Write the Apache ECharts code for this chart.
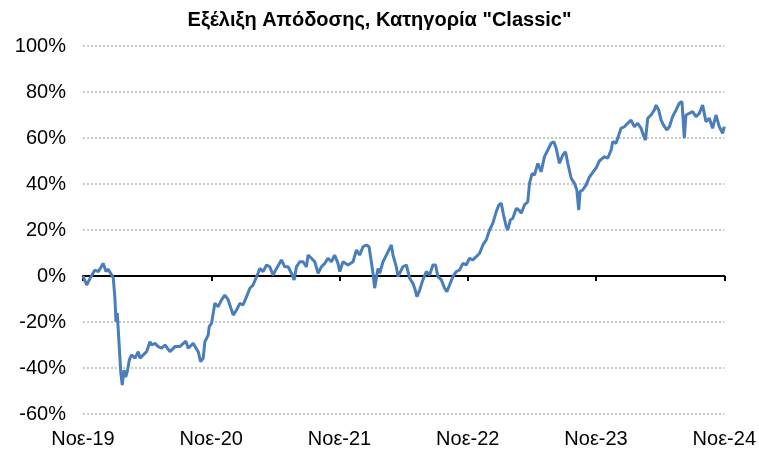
<!DOCTYPE html>
<html>
<head>
<meta charset="utf-8">
<script src="https://cdn.jsdelivr.net/npm/echarts@6/dist/echarts.min.js"></script>
<style>
html,body{margin:0;padding:0;background:#fff;}
#chart{width:759px;height:450px;}
</style>
</head>
<body>
<div id="chart"></div>
<script>
const title = 'Εξέλιξη Απόδοσης, Κατηγορία "Classic"';
const startYear = 19;
const monthLabel = 'Νοε';
// time in years since Nov-2019
const years = [0,0.008,0.029,0.049,0.070,0.093,0.119,0.140,0.158,0.179,0.195,0.210,0.224,0.236,0.249,0.257,0.267,0.283,0.294,0.306,0.319,0.333,0.345,0.361,0.379,0.405,0.431,0.444,0.470,0.496,0.522,0.535,0.561,0.586,0.613,0.639,0.678,0.717,0.755,0.802,0.820,0.859,0.898,0.917,0.937,0.950,0.976,0.984,1.002,1.028,1.054,1.080,1.106,1.132,1.171,1.197,1.223,1.248,1.275,1.301,1.326,1.365,1.378,1.404,1.431,1.456,1.482,1.509,1.547,1.573,1.599,1.625,1.646,1.664,1.690,1.716,1.742,1.755,1.781,1.807,1.833,1.859,1.885,1.910,1.937,1.962,1.988,2.002,2.027,2.066,2.105,2.132,2.157,2.183,2.209,2.230,2.248,2.261,2.274,2.287,2.300,2.313,2.339,2.365,2.391,2.404,2.417,2.443,2.456,2.469,2.494,2.521,2.547,2.572,2.586,2.604,2.625,2.650,2.677,2.702,2.728,2.749,2.767,2.794,2.819,2.837,2.858,2.884,2.910,2.936,2.962,2.988,3.014,3.040,3.066,3.092,3.118,3.144,3.170,3.195,3.222,3.242,3.261,3.279,3.300,3.312,3.331,3.351,3.378,3.398,3.417,3.442,3.468,3.481,3.502,3.520,3.546,3.572,3.598,3.624,3.650,3.671,3.689,3.715,3.741,3.762,3.780,3.806,3.832,3.850,3.865,3.876,3.896,3.923,3.948,3.974,4.001,4.026,4.065,4.091,4.118,4.130,4.156,4.195,4.221,4.247,4.273,4.299,4.325,4.351,4.364,4.385,4.403,4.429,4.455,4.468,4.488,4.507,4.525,4.551,4.572,4.597,4.624,4.649,4.670,4.688,4.701,4.727,4.753,4.779,4.805,4.831,4.857,4.883,4.909,4.935,4.961,4.987,5.000];
// cumulative return, %
const returns = [0,-0.3,-3.9,-1.7,0.5,2.6,1.9,3.8,5.5,1.9,3.0,2.2,0.4,-0.9,-9.6,-19.9,-16,-31,-41.6,-47.4,-40.9,-44,-41.6,-36.5,-34.3,-35.7,-32.9,-35.7,-34.3,-32.9,-28.6,-30,-29.3,-30.7,-31.4,-30,-32.9,-30.7,-30.7,-28.3,-31.4,-29.3,-32.9,-37.2,-35.8,-28.6,-25.7,-22,-20.6,-11.9,-13.3,-10.4,-8.3,-10.4,-17,-14.8,-11.9,-12.6,-9,-5.3,-3.9,1.2,3.3,1.9,4.8,4,0.4,3.3,7,4,4,1.2,-1.7,4,6.2,6.2,4,9.1,7.7,6.2,1.2,4,5.5,7.7,6.2,9.1,5.5,1.9,6.2,4.8,6.2,11.3,9.1,12.7,13.5,12.7,6.2,1.2,-5.3,-1,3.3,1.2,6.2,9.1,12,13.5,9.1,4,-0.3,-1,4,4.8,-1,-3.2,-5.3,-9,-6.1,-1.7,1.9,0.4,4.8,4.8,-0.3,-1.7,-5.3,-6.8,-3.9,-0.3,1.9,2.6,5.5,4.8,7.7,7,8.4,9.9,13.5,15.7,20,22.9,28,30.9,31.6,26.5,21.4,20,24.3,25.1,29.4,28.7,27.3,30.9,32.3,40.3,44.6,43.9,49,45.3,51.9,54.8,57.7,58.4,55.5,49,52.6,54,49,42.5,40.3,37.4,28.7,36.7,37.4,39.6,43,45,47,50,51.9,51.2,54.8,58.4,57.7,64.2,64.9,66.4,67.8,64.9,66.4,64.2,62,59.1,68.6,70,72.2,74.3,72.2,67.8,65.7,63.5,64.9,69.3,72.2,75.1,75.8,59.9,70,70.7,71.5,69.3,70.7,74.3,67.1,68.6,64.2,70,64.9,62,64.9];
const yTicks = {min: -60, max: 100, step: 20};

const font = '"Liberation Sans Narrow", "Arial Narrow", "Liberation Sans", Arial, sans-serif';
const chart = echarts.init(document.getElementById('chart'), null, {renderer: 'canvas'});
const seriesData = years.map((t, i) => [t, returns[i]]);
chart.setOption({
  animation: false,
  backgroundColor: '#ffffff',
  title: {
    text: title, left: 'center', top: 5,
    textStyle: {fontFamily: font, fontWeight: 'bold', fontSize: 20, color: '#000'}
  },
  grid: {left: 83, right: 33, top: 46, bottom: 36, containLabel: false},
  xAxis: [{
    type: 'value', min: 0, max: 5, interval: 1, position: 'bottom',
    axisLine: {show: false, onZero: false}, axisTick: {show: false}, splitLine: {show: false},
    axisLabel: {fontFamily: font, fontSize: 20, color: '#000', margin: 15,
      formatter: v => monthLabel + '-' + (startYear + v)}
  }, {
    type: 'value', min: 0, max: 5, interval: 1, position: 'bottom',
    axisLine: {show: true, onZero: true, lineStyle: {color: '#000', width: 2}},
    axisTick: {show: true, inside: false, length: 5, lineStyle: {color: '#000', width: 2}},
    axisLabel: {show: false}, splitLine: {show: false}
  }],
  yAxis: {
    type: 'value', min: yTicks.min, max: yTicks.max, interval: yTicks.step,
    axisLine: {show: false}, axisTick: {show: false},
    axisLabel: {fontFamily: font, fontSize: 20, color: '#000', margin: 17, formatter: v => v + '%'},
    splitLine: {show: true, lineStyle: {color: '#b8b8b8', type: [2, 2], width: 1.5}}
  },
  series: [{
    type: 'line', xAxisIndex: 1, data: seriesData, showSymbol: false, symbol: 'none',
    lineStyle: {color: '#4a7ebb', width: 3}, z: 1
  }]
});
</script>
</body>
</html>
